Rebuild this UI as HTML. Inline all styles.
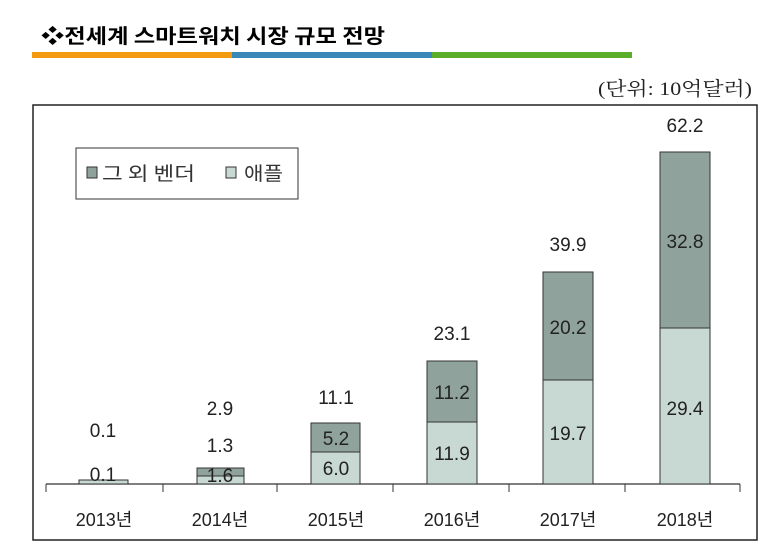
<!DOCTYPE html>
<html><head><meta charset="utf-8"><style>
body{margin:0;background:#fff;width:763px;height:558px;overflow:hidden;position:relative;font-family:"Liberation Sans","Noto Sans CJK KR",sans-serif}
</style></head><body>
<svg width="763" height="558" xmlns="http://www.w3.org/2000/svg" style="position:absolute;left:0;top:0">
<text x="41" y="43" font-size="20" font-weight="bold" font-family="'Noto Sans CJK KR',sans-serif" fill="#000" textLength="344" lengthAdjust="spacingAndGlyphs">❖전세계 스마트워치 시장 규모 전망</text>
<rect x="32" y="52" width="200" height="6" fill="#f39a10"/>
<rect x="232" y="52" width="200" height="6" fill="#3a88b8"/>
<rect x="432" y="52" width="200" height="6" fill="#5aae2a"/>
<text x="598" y="95" font-size="19" font-family="'Liberation Serif','Noto Serif CJK SC',serif" fill="#222" textLength="154" lengthAdjust="spacingAndGlyphs">(단위: 10억달러)</text>
<rect x="33" y="105" width="724" height="435" fill="none" stroke="#222" stroke-width="1.5"/>
<rect x="76" y="148" width="222" height="51" fill="#fff" stroke="#333" stroke-width="1"/>
<rect x="87" y="167" width="10" height="11" fill="#8fa39c" stroke="#333"/>
<text x="102" y="180" font-size="19" fill="#333" font-family="'Noto Sans CJK KR',sans-serif" textLength="93" lengthAdjust="spacingAndGlyphs">그 외 벤더</text>
<rect x="226" y="167" width="10" height="11" fill="#c8d8d2" stroke="#333"/>
<text x="244" y="180" font-size="19" fill="#333" font-family="'Noto Sans CJK KR',sans-serif" textLength="39" lengthAdjust="spacingAndGlyphs">애플</text>
<line x1="46" y1="484" x2="740" y2="484" stroke="#333" stroke-width="1.2"/>
<g stroke="#333"><line x1="46" y1="484" x2="46" y2="492"/><line x1="163" y1="484" x2="163" y2="492"/><line x1="277" y1="484" x2="277" y2="492"/><line x1="393" y1="484" x2="393" y2="492"/><line x1="509" y1="484" x2="509" y2="492"/><line x1="625" y1="484" x2="625" y2="492"/><line x1="740" y1="484" x2="740" y2="492"/></g>
<g stroke="#333" stroke-width="1">
<rect x="79" y="480" width="49" height="4" fill="#c8d8d2"/>
<rect x="197" y="468" width="47" height="8" fill="#8fa39c"/><rect x="197" y="476" width="47" height="8" fill="#c8d8d2"/>
<rect x="311" y="423" width="49" height="29" fill="#8fa39c"/><rect x="311" y="452" width="49" height="32" fill="#c8d8d2"/>
<rect x="427" y="361" width="50" height="61" fill="#8fa39c"/><rect x="427" y="422" width="50" height="62" fill="#c8d8d2"/>
<rect x="543" y="272" width="50" height="108" fill="#8fa39c"/><rect x="543" y="380" width="50" height="104" fill="#c8d8d2"/>
<rect x="660" y="152" width="50" height="176" fill="#8fa39c"/><rect x="660" y="328" width="50" height="156" fill="#c8d8d2"/>
</g>
<g font-size="19" fill="#222" text-anchor="middle">
<text x="103" y="437">0.1</text><text x="103" y="481">0.1</text>
<text x="220" y="415">2.9</text><text x="220" y="452">1.3</text><text x="220" y="482">1.6</text>
<text x="336" y="404">11.1</text><text x="336" y="445">5.2</text><text x="336" y="475">6.0</text>
<text x="452" y="340">23.1</text><text x="452" y="399">11.2</text><text x="452" y="460">11.9</text>
<text x="568" y="251">39.9</text><text x="568" y="334">20.2</text><text x="568" y="440">19.7</text>
<text x="685" y="132">62.2</text><text x="685" y="248">32.8</text><text x="685" y="415">29.4</text>
</g>
<g font-size="18" fill="#222" text-anchor="middle" font-family="'Liberation Sans','Noto Sans CJK KR',sans-serif">
<text x="104" y="526">2013년</text><text x="220" y="526">2014년</text><text x="336" y="526">2015년</text>
<text x="452" y="526">2016년</text><text x="568" y="526">2017년</text><text x="685" y="526">2018년</text>
</g>
</svg>
</body></html>
